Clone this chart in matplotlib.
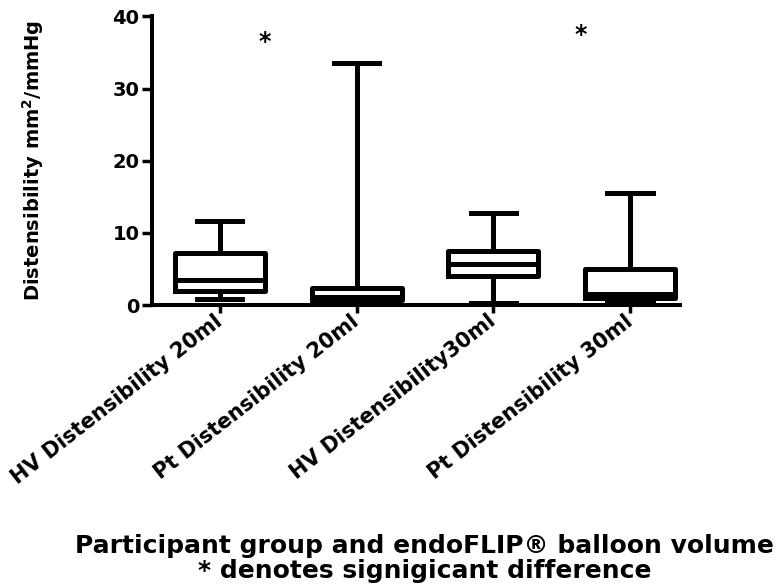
import matplotlib
matplotlib.use("Agg")
import matplotlib.pyplot as plt

# group labels and box summary values (mm2/mmHg)
groups = ["HV Distensibility 20ml", "Pt Distensibility 20ml",
          "HV Distensibility30ml", "Pt Distensibility 30ml"]
whis_low = [0.9, 0.2, 0.3, 0.35]
q1 = [1.9, 0.7, 4.0, 1.0]
median = [3.5, 1.1, 5.65, 1.5]
q3 = [7.2, 2.4, 7.55, 4.95]
whis_high = [11.7, 33.5, 12.8, 15.5]

# significance markers (group position, height)
star_x = [0.33, 2.64]
star_y = [36.5, 37.4]

stats = []
for i, g in enumerate(groups):
    stats.append(dict(label=g, whislo=whis_low[i], q1=q1[i], med=median[i],
                      q3=q3[i], whishi=whis_high[i], fliers=[]))

fig = plt.figure(figsize=(7.81, 5.87), dpi=100)
ax = fig.add_axes([0.1946, 0.4804, 0.676, 0.4915])

lw = 3.6
ax.bxp(stats, positions=range(4), widths=0.66, capwidths=0.33,
       showfliers=False, patch_artist=False,
       boxprops=dict(color="black", linewidth=lw),
       whiskerprops=dict(color="black", linewidth=lw),
       capprops=dict(color="black", linewidth=lw),
       medianprops=dict(color="black", linewidth=lw))

for x, y in zip(star_x, star_y):
    ax.text(x, y, "*", ha="center", va="center", fontsize=17, fontweight="bold")

ax.set_xlim(-0.497, 3.365)
ax.set_ylim(0, 40)
ax.set_yticks([0, 10, 20, 30, 40])

for side in ["top", "right"]:
    ax.spines[side].set_visible(False)
for side in ["left", "bottom"]:
    ax.spines[side].set_linewidth(2.9)

ax.tick_params(axis="y", length=7, width=2.5, labelsize=14, pad=2)
ax.tick_params(axis="x", length=6, width=2.5, labelsize=15, pad=4)
for t in ax.get_yticklabels():
    t.set_fontweight("bold")
ax.set_xticks(range(4))
ax.set_xticklabels(groups, rotation=38, ha="right", va="center",
                   rotation_mode="anchor", fontweight="bold")

ax.set_ylabel("Distensibility mm$^\\mathbf{2}$/mmHg", fontsize=14,
              fontweight="bold")
ax.yaxis.set_label_coords(-0.2, 0.5)

fig.text(0.544, 0.0486, "Participant group and endoFLIP\u00ae balloon volume\n"
         "* denotes signigicant difference", ha="center", va="center",
         multialignment="center", fontsize=18, fontweight="bold",
         linespacing=1.1)

fig.savefig("out.png", dpi=100)
